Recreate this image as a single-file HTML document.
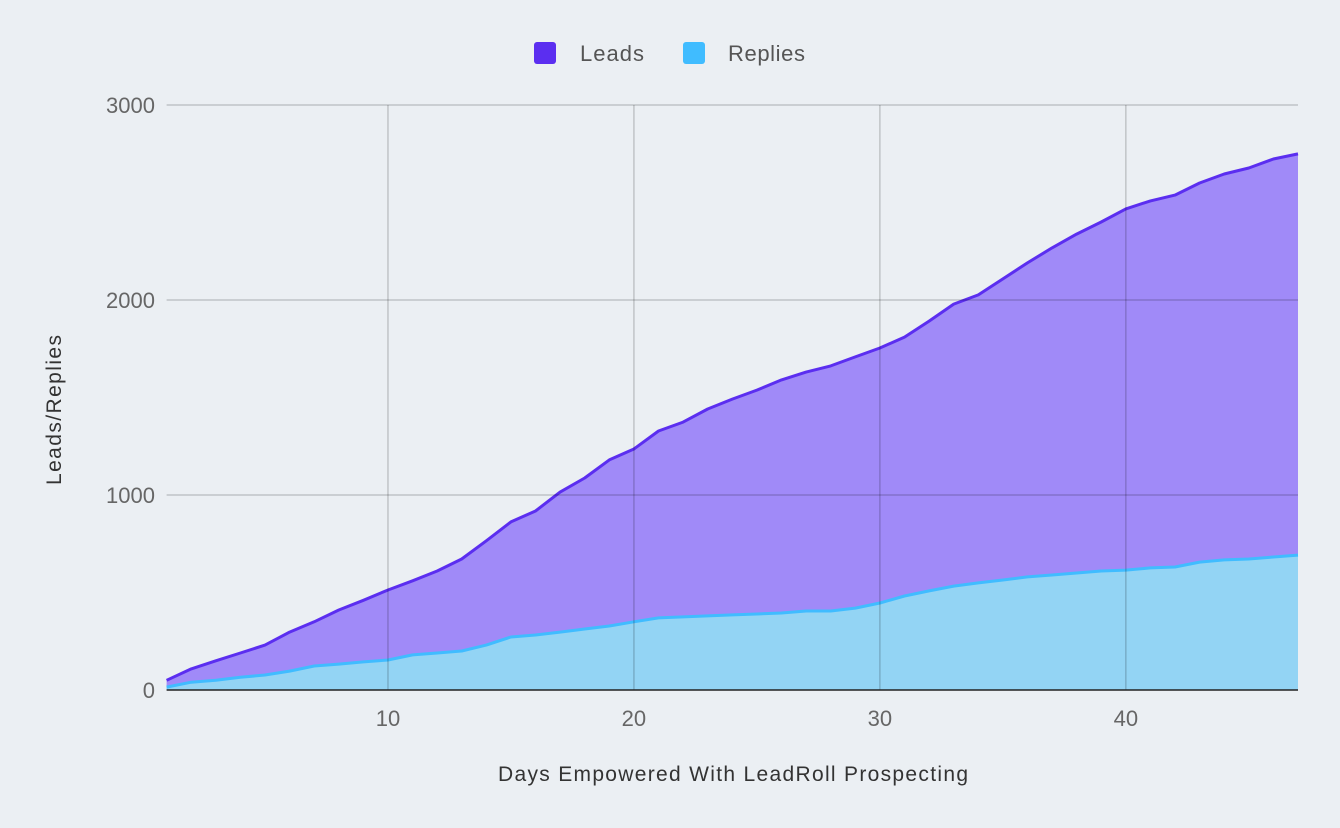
<!DOCTYPE html>
<html><head><meta charset="utf-8"><style>
html,body{margin:0;padding:0;background:#ebeff3;}
svg{display:block;font-family:"Liberation Sans",sans-serif;}
</style></head><body>
<svg width="1340" height="828" id="chart">
<rect width="1340" height="828" fill="#ebeff3"/>
<g id="legend">
<rect x="534" y="42" width="22" height="22" rx="3" fill="#5b2ef0"/>
<text x="580" y="61" font-size="22" fill="#555" textLength="64">Leads</text>
<rect x="683" y="42" width="22" height="22" rx="3" fill="#40bcff"/>
<text x="728" y="61" font-size="22" fill="#555" textLength="77">Replies</text>
</g>
<g id="plot"></g>
<text x="498" y="781" font-size="21" fill="#333" textLength="470">Days Empowered With LeadRoll Prospecting</text>
<text x="0" y="0" font-size="21" fill="#333" textLength="150" transform="translate(61,485) rotate(-90)">Leads/Replies</text>
</svg>
<script>
const leads=[50,108,150,190,230,297,350,410,460,513,560,610,672,765,862,918,1015,1087,1180,1236,1328,1374,1441,1492,1538,1590,1630,1662,1708,1754,1810,1892,1979,2026,2108,2190,2267,2338,2400,2467,2508,2538,2600,2646,2677,2723,2749];
const replies=[15,40,50,65,77,97,123,133,144,154,180,190,200,230,272,282,297,313,328,350,370,375,380,385,390,395,405,405,420,446,482,508,533,549,564,580,590,600,610,615,626,631,656,667,672,682,692];
const yTicks=[0,1000,2000,3000];
const xTicks=[10,20,30,40];
const NS="http://www.w3.org/2000/svg";
const X0=166.6,X1=1298,Y0=690,Y1=105;
const xs=d=>X0+(d-1)*(X1-X0)/46;
const ys=v=>Y0-v*(Y0-Y1)/3000;
const g=document.getElementById('plot');
function mk(t,a){const e=document.createElementNS(NS,t);for(const k in a)e.setAttribute(k,a[k]);g.appendChild(e);return e;}
function area(arr,fill,stroke,name){
  let p=arr.map((v,i)=>xs(i+1).toFixed(1)+','+ys(v).toFixed(1));
  const a=mk('polygon',{points:p.join(' ')+' '+xs(arr.length)+','+Y0+' '+xs(1)+','+Y0,fill:fill});
  
  
  const l=mk('polyline',{points:p.join(' '),fill:'none',stroke:stroke,'stroke-width':3,'stroke-linejoin':'round'});
  
  
}
area(leads,'#a08af8','#5b2ef0','leads');
area(replies,'#93d4f4','#40bcff','replies');
yTicks.forEach(v=>{
  if(v>0){const l=mk('line',{x1:X0,x2:X1,y1:ys(v),y2:ys(v),stroke:'rgba(0,0,0,0.18)','stroke-width':1.5});
  
  }
  const t=mk('text',{x:155,y:ys(v)+8,'font-size':22,fill:'#666','text-anchor':'end'});t.textContent=v;
  
  
});
xTicks.forEach(d=>{
  const l=mk('line',{x1:xs(d),x2:xs(d),y1:Y1,y2:Y0,stroke:'rgba(0,0,0,0.18)','stroke-width':1.5});
  
  
  const t=mk('text',{x:xs(d),y:726,'font-size':22,fill:'#666','text-anchor':'middle'});t.textContent=d;
  
  
});
const b=mk('line',{x1:X0,x2:X1,y1:Y0,y2:Y0,stroke:'#222','stroke-width':1.5});


</script>
</body></html>
